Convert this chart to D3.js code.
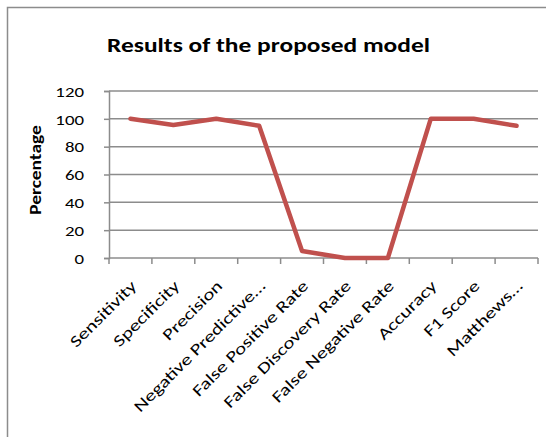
<!DOCTYPE html>
<html>
<head>
<meta charset="utf-8">
<script src="https://cdn.jsdelivr.net/npm/d3@7"></script>
<style>
  html, body { margin: 0; padding: 0; background: #fff; }
  svg { display: block; }
  text { font-family: Carlito, Lato, "Open Sans", sans-serif; fill: #000; }
</style>
</head>
<body>
<svg id="chart" width="546" height="437"></svg>
<script>
const categories = [
  "Sensitivity", "Specificity", "Precision", "Negative Predictive…",
  "False Positive Rate", "False Discovery Rate", "False Negative Rate",
  "Accuracy", "F1 Score", "Matthews…"
];
const values = [100, 95.5, 100, 95, 5, 0, 0, 100, 100, 95];
const yTicks = [0, 20, 40, 60, 80, 100, 120];
const title = "Results of the proposed model";
const yLabel = "Percentage";

const svg = d3.select("#chart");
const W = 546, H = 437;
const plot = { left: 109, right: 538, top: 91, bottom: 258 };
const FONT = "Carlito, Lato, 'Open Sans', sans-serif";

// outer chart frame (only left and top edges fall inside the view)
svg.append("rect")
  .attr("x", 7.5).attr("y", 7.5)
  .attr("width", W + 20).attr("height", H + 20)
  .attr("fill", "#fff").attr("stroke", "#8c8c8c").attr("stroke-width", 1.5);

const x = d3.scaleBand().domain(categories).range([plot.left, plot.right]).padding(0);
const y = d3.scaleLinear().domain([0, 120]).range([plot.bottom, plot.top]);

// horizontal gridlines
svg.append("g")
  .selectAll("line")
  .data(yTicks.filter(d => d > 0))
  .join("line")
  .attr("x1", plot.left).attr("x2", plot.right)
  .attr("y1", d => y(d)).attr("y2", d => y(d))
  .attr("stroke", "#8c8c8c").attr("stroke-width", 1.5);

// y axis
const yAxis = svg.append("g")
  .attr("transform", `translate(${plot.left},0)`)
  .call(d3.axisLeft(y).tickValues(yTicks).tickSize(5).tickPadding(0));
yAxis.select(".domain").attr("stroke", "#8c8c8c").attr("stroke-width", 1.5);
yAxis.selectAll(".tick line").attr("stroke", "#8c8c8c").attr("stroke-width", 1.5);
yAxis.selectAll(".tick text")
  .style("font-family", FONT)
  .style("font-size", "14.5px").attr("fill", "#000")
  .attr("x", null).attr("dy", "0.36em")
  .attr("transform", "translate(-25,0) scale(1.3,1)");

// x axis with category boundary ticks
const xAxis = svg.append("g")
  .attr("transform", `translate(0,${plot.bottom})`);
xAxis.append("line")
  .attr("x1", plot.left).attr("x2", plot.right)
  .attr("stroke", "#8c8c8c").attr("stroke-width", 1.5);
const bounds = categories.map(c => x(c)).concat([x(categories[categories.length - 1]) + x.bandwidth()]);
xAxis.selectAll("line.tk")
  .data(bounds)
  .join("line").attr("class", "tk")
  .attr("x1", d => d).attr("x2", d => d)
  .attr("y1", 0).attr("y2", 6)
  .attr("stroke", "#8c8c8c").attr("stroke-width", 1.5);

// rotated category labels
xAxis.selectAll("text.cat")
  .data(categories)
  .join("text").attr("class", "cat")
  .attr("text-anchor", "end")
  .attr("font-size", "16px")
  .attr("transform", d => `translate(${x(d) + x.bandwidth() / 2 + 7},${29}) rotate(-45) scale(1.31,1)`)
  .text(d => d);

// data line
const line = d3.line()
  .x((d, i) => x(categories[i]) + x.bandwidth() / 2)
  .y(d => y(d));
svg.append("path")
  .datum(values)
  .attr("d", line)
  .attr("fill", "none")
  .attr("stroke", "#c0504d")
  .attr("stroke-width", 4.5)
  .attr("stroke-linejoin", "round")
  .attr("stroke-linecap", "round");

// title
svg.append("text")
  .attr("x", 107).attr("y", 52)
  .attr("font-size", "19.5px").attr("font-weight", "bold")
  .attr("textLength", 323).attr("lengthAdjust", "spacingAndGlyphs")
  .text(title);

// y axis title
svg.append("text")
  .attr("transform", `translate(41,170) rotate(-90) scale(1.3,1)`)
  .attr("text-anchor", "middle")
  .attr("font-size", "15px").attr("font-weight", "bold")
  .text(yLabel);
</script>
</body>
</html>
